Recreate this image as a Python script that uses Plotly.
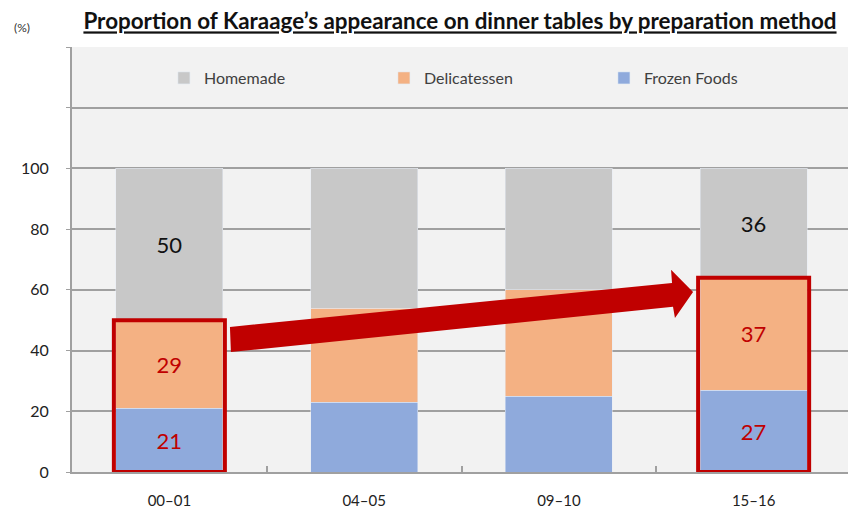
import plotly.graph_objects as go

# data
periods = ["00–01", "04–05", "09–10", "15–16"]
frozen = [21, 23, 25, 27]
delicatessen = [29, 31, 35, 37]
homemade = [50, 46, 40, 36]
highlight = [True, False, False, True]   # only first and last bars are labelled

pos = list(range(len(periods)))
red = "#C00000"


def labels(vals):
    return [str(v) if h else "" for v, h in zip(vals, highlight)]


font = "Lato, 'Open Sans', sans-serif"

fig = go.Figure()
fig.add_trace(go.Bar(x=pos, y=frozen, name="Frozen Foods", marker_color="#8FAADC",
                     text=labels(frozen), textposition="inside", insidetextanchor="middle",
                     textfont=dict(color=red, size=22, family=font)))
fig.add_trace(go.Bar(x=pos, y=delicatessen, name="Delicatessen", marker_color="#F4B183",
                     text=labels(delicatessen), textposition="inside", insidetextanchor="middle",
                     textfont=dict(color=red, size=22, family=font)))
fig.add_trace(go.Bar(x=pos, y=homemade, name="Homemade", marker_color="#C8C8C8",
                     text=labels(homemade), textposition="inside", insidetextanchor="middle",
                     textfont=dict(color="#111111", size=22, family=font)))

# red boxes round the frozen + delicatessen part of the highlighted bars
for i, h in enumerate(highlight):
    if h:
        fig.add_shape(type="rect", xref="x", yref="y",
                      x0=i - 0.285, x1=i + 0.285, y0=0, y1=frozen[i] + delicatessen[i],
                      line=dict(color=red, width=4), layer="above")

# big arrow from the first box to the last one
arrow = [(0.311, 47.8), (2.581, 62.3), (2.576, 66.6), (2.689, 59.3),
         (2.596, 50.7), (2.586, 54.4), (0.316, 39.5)]
path = "M " + " L ".join(f"{x},{y}" for x, y in arrow) + " Z"
fig.add_shape(type="path", xref="x", yref="y", path=path,
              fillcolor=red, line=dict(width=0), layer="above")

fig.add_annotation(text="(%)", xref="paper", yref="paper", x=-0.064, y=1.045,
                   xanchor="center", yanchor="middle", showarrow=False,
                   font=dict(size=12, color="#333333", family=font))

yticks = [0, 20, 40, 60, 80, 100, 120, 140]
# page body has an 8px margin, so the figure is a little smaller than the window
fig.update_layout(
    width=848, height=502,
    margin=dict(l=64, r=5, t=39, b=38, autoexpand=False),
    barmode="stack", bargap=0.45,
    paper_bgcolor="white", plot_bgcolor="#F2F2F2",
    font=dict(family=font, color="#333333"),
    title=dict(text="<u><b>Proportion of Karaage’s appearance on dinner tables by preparation method</b></u>",
               x=0.533, xanchor="center", y=0.973, yanchor="middle",
               font=dict(size=22.4, color="#111111", family=font)),
    legend=dict(orientation="h", x=0.118, xanchor="left", y=0.927, yanchor="middle",
                traceorder="reversed", entrywidth=175, entrywidthmode="pixels",
                bgcolor="rgba(0,0,0,0)", font=dict(size=16, color="#404040")),
    xaxis=dict(range=[-0.5, 3.5], tickvals=pos, ticktext=periods, ticks="",
               showline=True, linecolor="#A0A0A0", linewidth=2, showgrid=False,
               zeroline=False, tickfont=dict(size=15, color="#222222"),
               ticklabelstandoff=14, automargin=False,
               minor=dict(tickvals=[0.5, 1.5, 2.5], ticks="inside", ticklen=6,
                          tickcolor="#A0A0A0", tickwidth=1.5, showgrid=False)),
    yaxis=dict(range=[0, 140], tickvals=yticks,
               ticktext=[str(v) if v <= 100 else "" for v in yticks],
               showgrid=True, gridcolor="#A0A0A0", gridwidth=1.5,
               showline=True, linecolor="#A0A0A0", linewidth=2,
               ticks="outside", ticklen=4, tickcolor="#A0A0A0",
               zeroline=False, tickfont=dict(size=16, color="#222222"),
               ticklabelstandoff=14, automargin=False),
)

fig.write_html("out.html")
